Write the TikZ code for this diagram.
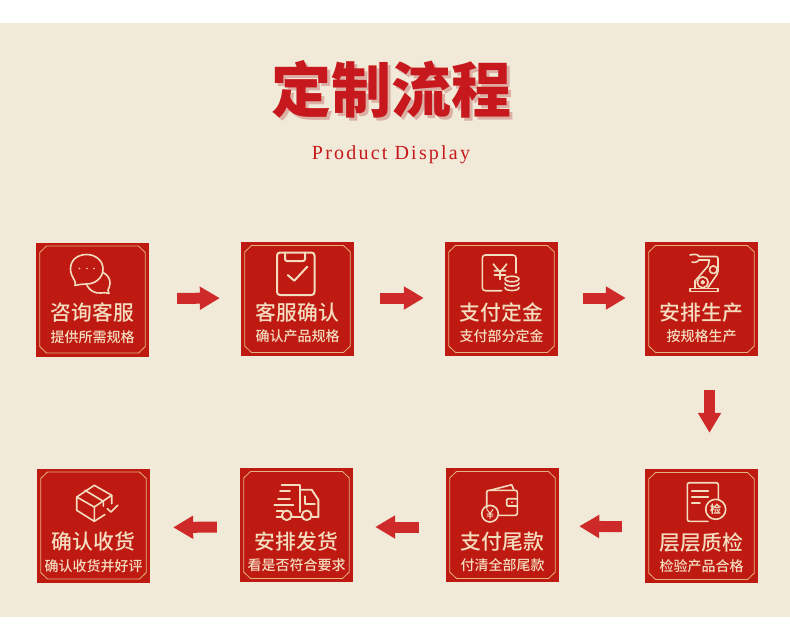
\documentclass[tikz,border=0pt]{standalone}
\usepackage{fontspec}
\setmainfont{Noto Sans CJK SC}
\newfontfamily\latinfont[LetterSpace=11]{Liberation Serif}
\newfontfamily\mediumfont{Noto Sans CJK SC Medium}
\usetikzlibrary{arrows.meta}
\definecolor{paper}{HTML}{F2EAD9}
\definecolor{cardred}{HTML}{BE1A12}
\definecolor{gold}{HTML}{E3B27C}
\definecolor{cream}{HTML}{F4DCBF}
\definecolor{flowred}{HTML}{CE2A2A}
\definecolor{inkred}{HTML}{C7191D}
\definecolor{shade}{HTML}{DBAFA4}

\begin{document}
\begin{tikzpicture}[
                x=1pt, y=-1pt,
                card/.style={fill=cardred, minimum width=113pt, minimum height=114pt, inner sep=0pt},
                cardframe/.style={draw=gold, line width=0.8pt},
                cardhead/.style={text=cream, font=\mediumfont\fontsize{20.8}{20.8}\selectfont, inner sep=0pt},
                cardsub/.style={text=cream, font=\mediumfont\fontsize{14}{14}\selectfont, inner sep=0pt},
                bigtitle/.style={font=\fontsize{60}{60}\selectfont\bfseries, inner sep=0pt},
                flow/.style={draw=flowred, line width=11pt, -{Triangle[length=20pt,width=22pt]}},
                icon/.style={draw=cream, line width=1.6pt, line cap=round, line join=round}
            ]

            \useasboundingbox (0,0) rectangle (790,641);
            \fill[white] (0,0) rectangle (790,641);
            \fill[paper] (0,23) rectangle (790,617);

            \node[bigtitle, text=shade] (shadow) at (394,92) {定制流程};
            \node[bigtitle, text=inkred] (title) at (391,89) {定制流程};
            \node[text=inkred, font=\latinfont\fontsize{20}{20}\selectfont, inner sep=0pt] (subtitle) at (391,154.5) {Product Display};

            \foreach \name/\cx/\cy/\dy/\head/\sub in {
                    a/92.5/299.5/13.5/咨询客服/提供所需规格,
                    b/297.5/299/13.5/客服确认/确认产品规格,
                    c/501.5/299/13.5/支付定金/支付部分定金,
                    d/701.5/299/13.5/安排生产/按规格生产,
                    e/701.5/526/16.5/层层质检/检验产品合格,
                    f/502.5/525/16.5/支付尾款/付清全部尾款,
                    g/296.5/525/16.5/安排发货/看是否符合要求,
                    h/93.5/525.5/16.5/确认收货/确认收货并好评} {
                    \node[card] (card\name) at (\cx,\cy) {};
                    \draw[cardframe, shift={(card\name.center)}] (-46,-53.5) -- (46,-53.5) -- (52.8,-47) -- (52.8,47) -- (46,53.5) -- (-46,53.5) -- (-52.8,47) -- (-52.8,-47) -- cycle;
                    \node[cardhead] (head\name) at ([yshift=-\dy pt]card\name.center) {\head};
                    \node[cardsub] (sub\name) at ([yshift=-\dy pt-24pt]card\name.center) {\sub};
                }

            \draw[flow, shorten <=28pt, shorten >=21pt] ([yshift=1pt]carda.east) -- ([yshift=1pt]cardb.west);
            \draw[flow, shorten <=26pt, shorten >=21pt] ([yshift=1pt]cardb.east) -- ([yshift=1pt]cardc.west);
            \draw[flow, shorten <=25pt, shorten >=19pt] ([yshift=1pt]cardc.east) -- ([yshift=1pt]cardd.west);
            \draw[flow, shorten <=34pt, shorten >=36pt] ([xshift=8pt]cardd.south) -- ([xshift=8pt]carde.north);
            \draw[flow, shorten <=23pt, shorten >=20pt] ([yshift=-1pt]carde.west) -- ([yshift=-1pt]cardf.east);
            \draw[flow, shorten <=27pt, shorten >=22pt] ([yshift=-2pt]cardf.west) -- ([yshift=-2pt]cardg.east);
            \draw[flow, shorten <=23pt, shorten >=23pt] ([yshift=-2pt]cardg.west) -- ([yshift=-2pt]cardh.east);

            \draw[icon] (70.5,269) .. controls (70.5,259.5) and (78,254.5) .. (86.7,254.5) .. controls (95.5,254.5) and (103,260.5) .. (103,269) .. controls (103,278) and (95,284) .. (86.7,284) .. controls (83,284) and (79,284.5) .. (75,285.5) .. controls (76,283) and (75,281.5) .. (74,279.5) .. controls (72,276) and (70.5,273) .. (70.5,269) -- cycle;
            \draw[icon] (103,272.5) .. controls (108,275) and (110,279) .. (110,283) .. controls (110,286) and (109,288) .. (108,290) -- (109,293.5) .. controls (105,292.5) and (103,292.5) .. (101,293) .. controls (95,293.5) and (90,291) .. (87,285.5);
            \foreach \dotx in {79.5,87,94} {
                    \fill[cream] (\dotx,268.5) circle [radius=0.8];
                }

            \draw[icon, line width=2pt, rounded corners=3pt] (277,252.5) rectangle (314.5,295);
            \draw[icon, line width=2pt, rounded corners=2pt] (285,252.5) -- (285,261) -- (305,261) -- (305,252.5);
            \draw[icon, line width=2pt] (287.7,275) -- (294.3,280.7) -- (307.3,266.7);

            \draw[icon, rounded corners=3pt] (516,273) -- (516,255) -- (482.3,255) -- (482.3,290.7) -- (501.7,290.7);
            \draw[icon] (493.3,264) -- (500,272.3) -- (506.7,264) (500,272.3) -- (500,279.5) (494.3,270.7) -- (505.7,270.7) (494.3,275) -- (505.7,275);
            \draw[icon] (512,279) ellipse [x radius=7, y radius=2.8];
            \draw[icon] (505,283) .. controls (505,287) and (519,287) .. (519,283);
            \draw[icon] (505,287.5) .. controls (505,291.5) and (519,291.5) .. (519,287.5);

            \draw[icon] (690,288.5) rectangle (718,291.5);
            \draw[icon] (695,288.5) -- (695,281) -- (708,266) -- (709.5,260) -- (699,260);
            \draw[icon, rounded corners=2pt] (699,256.5) -- (718,256.5) -- (718,273) -- (708,287.5);
            \draw[icon] (702.7,282.3) circle [radius=5.5] (702.7,282.3) circle [radius=1.5];
            \draw[icon] (713.3,269.7) circle [radius=3.8];
            \draw[icon] (690,255) .. controls (694,254) and (698,254) .. (699,256.5) (699,260) .. controls (698,262) and (694,263) .. (692,262);

            \draw[icon] (94.3,485.3) -- (111.7,495.3) -- (94.3,507) -- (76.7,497) -- cycle;
            \draw[icon] (76.7,497) -- (76.7,510.3) -- (94.3,521.3) -- (94.3,507);
            \draw[icon] (94.3,521.3) -- (105,514.5) (111.7,495.3) -- (111.7,503.7);
            \draw[icon] (85,490.3) -- (103.3,501.3) -- (103.3,506);
            \draw[icon] (107.3,508.7) -- (111,512) -- (117.7,505.3);

            \draw[icon, line width=1.9pt] (281.7,484.7) -- (300,484.7) -- (300,512) (280,491.3) -- (290,491.3) (278,498.7) -- (290,498.7) (274.3,505.3) -- (293.3,505.3) (276.7,511.3) -- (283,511.3);
            \draw[icon, line width=1.9pt] (300,489.7) -- (311.7,489.7) -- (318.3,499.7) -- (318.3,517) -- (312,517);
            \draw[icon, line width=1.9pt] (305,496.3) -- (305,504) -- (315,504);
            \draw[icon, line width=1.9pt] (286.7,515.3) circle [radius=4.8] (306.7,515.3) circle [radius=4.8];
            \draw[icon, line width=1.9pt] (291.7,517) -- (301.7,517) (276.7,517) -- (282,517);

            \draw[icon, rounded corners=2pt] (486.7,508) -- (486.7,490.3) -- (517.3,490.3) -- (517.3,515.3) -- (498,515.3);
            \draw[icon] (490,490.3) -- (511.7,484.7) -- (514,490.3);
            \draw[icon, rounded corners=1pt] (517.3,498.7) -- (506.7,498.7) -- (506.7,506) -- (517.3,506);
            \fill[cream] (512,502.3) circle [radius=1];
            \draw[icon] (490,513.7) circle [radius=8.3];
            \draw[icon, line width=1pt] (487,509.5) -- (490,513.5) -- (493,509.5) (490,513.5) -- (490,518.5) (487,514) -- (493,514) (487,516) -- (493,516);

            \draw[icon, rounded corners=2pt] (708,521.3) -- (687.3,521.3) -- (687.3,482.7) -- (718.3,482.7) -- (718.3,499);
            \draw[icon] (691.7,491) -- (708.3,491) (691.7,497) -- (708.3,497) (691.7,502.7) -- (700,502.7);
            \node[icon, circle, fill=cardred, minimum size=20pt, inner sep=0pt, text=cream, font=\fontsize{11}{11}\selectfont\bfseries] (stamp) at (715.7,509.3) {检};
        \end{tikzpicture}
\end{document}
